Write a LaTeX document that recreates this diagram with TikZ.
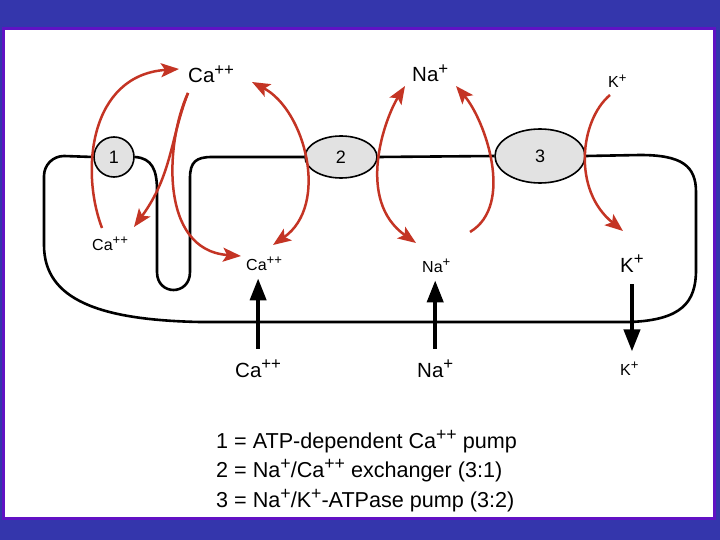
\documentclass[tikz,border=0pt]{standalone}
\usepackage{fontspec}
\usepackage{graphicx}
\setmainfont{Liberation Sans}
\usetikzlibrary{shapes.geometric, arrows.meta, positioning, calc}

\definecolor{slideblue}{RGB}{52,54,172}
\definecolor{framepurple}{RGB}{96,18,196}
\definecolor{ionred}{RGB}{196,52,36}
\definecolor{pumpgray}{RGB}{226,226,226}

\newcommand{\ionsup}[1]{\raisebox{0.36em}{\scalebox{0.82}{#1}}}
\newcommand{\Caion}{Ca\ionsup{++}}
\newcommand{\Naion}{Na\ionsup{+}}
\newcommand{\Kion}{K\ionsup{+}}

\begin{document}
\begin{tikzpicture}[
  x=1pt, y=1pt,
  >={Stealth[length=18pt, width=14pt, inset=4pt]},
  membrane/.style={line width=2.6pt, line join=round},
  flux/.style={ionred, line width=2.5pt},
  transport/.style={line width=4pt, -{Triangle[length=22pt, width=16pt]}},
  pump/.style={draw, line width=1.6pt, fill=pumpgray, inner sep=0pt, font=\fontsize{18}{18}\selectfont},
  bigion/.style={anchor=base west, inner sep=0pt, font=\fontsize{20.5}{24}\selectfont},
  smallion/.style={anchor=base west, inner sep=0pt, font=\fontsize{16}{19}\selectfont},
  legend/.style={anchor=base west, inner sep=0pt, font=\fontsize{21.6}{24}\selectfont},
]
  % slide background
  \fill[slideblue] (0,0) rectangle (720,-540);
  \filldraw[fill=white, draw=framepurple, line width=3pt] (3,-29) rectangle (714,-518);

  % transporters
  \node[pump, circle, minimum size=40pt] (p1) at (114,-157) {1};
  \node[pump, ellipse, minimum width=72pt, minimum height=42pt] (p2) at (341,-157) {2};
  \node[pump, ellipse, minimum width=90pt, minimum height=54pt] (p3) at (540,-156) {3};

  % membrane
  \draw[membrane] (p1.west) -- (64,-156) to[out=180,in=90] (44,-176) -- (44,-245)
    .. controls (44,-300) and (100,-320) .. (200,-322) -- (630,-322)
    .. controls (682,-320) and (696,-302) .. (696,-270) -- (696,-192)
    .. controls (696,-166) and (682,-155) .. (640,-155) -- (p3.east);
  \draw[membrane] (p1.east) .. controls (152,-158) and (157,-170) .. (157,-190) -- (157,-272)
    .. controls (157,-296) and (190,-296) .. (190,-272) -- (190,-178)
    .. controls (190,-162) and (196,-157) .. (212,-157) -- (p2.west);
  \draw[membrane] (p2.east) -- (p3.west);

  % ion labels
  \node[bigion] (catop) at (188,-83) {\Caion};
  \node[smallion] (casr) at (92,-250) {\Caion};
  \node[smallion] (cain) at (246,-270) {\Caion};
  \node[bigion] (catext) at (235,-377) {\Caion};
  \node[bigion] (natop) at (412,-82) {\Naion};
  \node[smallion] (nain) at (422,-272) {\Naion};
  \node[bigion] (naext) at (417,-377) {\Naion};
  \node[smallion] (ktop) at (608,-88) {\Kion};
  \node[bigion] (kin) at (620,-272) {\Kion};
  \node[smallion] (kext) at (620,-375) {\Kion};

  % ends of the ion paths
  \coordinate (ca1from) at (102,-228);
  \coordinate (ca1to) at (179,-69);
  \coordinate (ca2from) at (188,-93);
  \coordinate (ca2to) at (134,-227);
  \coordinate (ca3to) at (241,-256);
  \coordinate (ca4a) at (252,-82);
  \coordinate (ca4b) at (273,-245);
  \coordinate (na1a) at (405,-86);
  \coordinate (na1b) at (416,-243);
  \coordinate (na2from) at (470,-232);
  \coordinate (na2to) at (456,-86);
  \coordinate (kfrom) at (610,-95);
  \coordinate (kto) at (623,-231);

  % ion fluxes
  \draw[flux, ->] (ca1from) .. controls (80,-170) and (90,-75) .. (ca1to);
  \draw[flux, ->] (ca2from) .. controls (170,-140) and (172,-175) .. (ca2to);
  \draw[flux, ->] (ca2from) .. controls (166,-140) and (158,-250) .. (ca3to);
  \draw[flux, <->] (ca4a) .. controls (305,-110) and (330,-205) .. (ca4b);
  \draw[flux, <->] (na1a) .. controls (385,-118) and (355,-200) .. (na1b);
  \draw[flux, ->] (na2from) .. controls (515,-205) and (485,-120) .. (na2to);
  \draw[flux, ->] (kfrom) .. controls (580,-120) and (572,-190) .. (kto);

  % passive entry and exit
  \draw[transport] ([yshift=11pt]catext.north) -- ([yshift=-8pt]catext.north |- cain.south);
  \draw[transport] ([yshift=11pt]naext.north) -- ([yshift=-8pt]naext.north |- nain.south);
  \draw[transport] ([yshift=-12pt]kin.south) -- ([yshift=10pt]kin.south |- kext.north);

  % key
  \foreach \y/\lbl [count=\i] in {448/{1 = ATP-dependent \Caion{} pump},
      477/{2 = \Naion/\Caion{} exchanger (3:1)},
      507/{3 = \Naion/\Kion-ATPase pump (3:2)}} {
    \node[legend] (key\i) at (216,-\y) {\lbl};
  }
\end{tikzpicture}
\end{document}
